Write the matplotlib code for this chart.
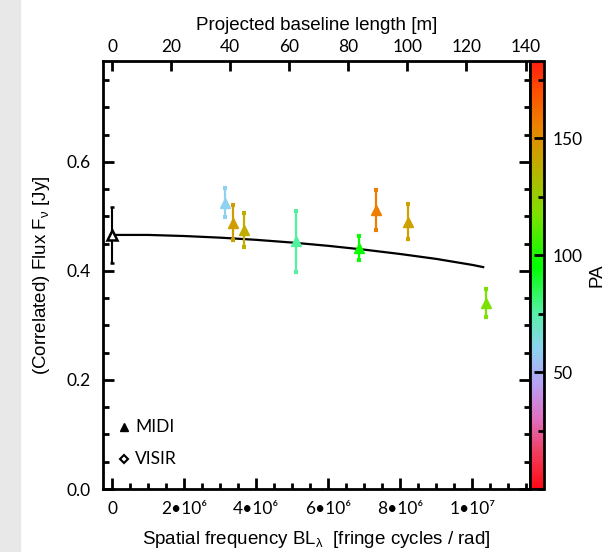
import numpy as np
import matplotlib
matplotlib.use("Agg")
import matplotlib.pyplot as plt
from matplotlib.colors import LinearSegmentedColormap, Normalize
from matplotlib.patches import Rectangle
from matplotlib.ticker import MultipleLocator

plt.rcParams["font.family"] = ["Liberation Sans", "DejaVu Sans"]
plt.rcParams["mathtext.fontset"] = "custom"
plt.rcParams["mathtext.rm"] = "Liberation Sans"
plt.rcParams["mathtext.it"] = "Liberation Sans:italic"

# --- data ---
WAVELENGTH_M = 12.2e-6  # spatial frequency -> projected baseline

total_freq = [0.0]
total_flux = [0.466]
total_err = [0.052]

midi_freq = [3.14e6, 3.36e6, 3.66e6, 5.10e6, 6.86e6, 7.32e6, 8.21e6, 10.39e6]
midi_flux = [0.525, 0.488, 0.475, 0.454, 0.442, 0.512, 0.490, 0.341]
midi_err = [0.027, 0.032, 0.031, 0.056, 0.022, 0.037, 0.032, 0.026]
midi_pa = [60, 145, 138, 76, 97, 156, 143, 117]

model_freq = [0.0, 1e6, 2e6, 3e6, 4e6, 5e6, 6e6, 7e6, 8e6, 9e6, 10e6, 10.3e6]
model_flux = [0.466, 0.466, 0.464, 0.461, 0.457, 0.452, 0.446, 0.439, 0.431, 0.422, 0.411, 0.407]

freq_ticks = [0, 2e6, 4e6, 6e6, 8e6, 10e6]
freq_ticklabels = ["0", "2\u202210\u2076", "4\u202210\u2076", "6\u202210\u2076",
                   "8\u202210\u2076", "1\u202210\u2077"]

pa_anchor = [0, 15, 30, 45, 60, 75, 95, 118, 140, 156, 170, 183]
pa_colors = ["#ff0a14", "#f03c5c", "#e070c0", "#b8a2f6", "#8ed2f0", "#58f0a8",
             "#00ff00", "#80e000", "#c4aa00", "#ec8000", "#ff5000", "#ff1e10"]

PA_MAX = 183.0
cmap = LinearSegmentedColormap.from_list(
    "pa", [(p / PA_MAX, c) for p, c in zip(pa_anchor, pa_colors)])
norm = Normalize(0, PA_MAX)

W, H = 611, 552
fig = plt.figure(figsize=(W / 100, H / 100), dpi=100)
fig.patches.append(Rectangle((0, 0), 20 / W, 1, transform=fig.transFigure,
                             color="#e8e8e8", zorder=-10))

ax = fig.add_axes([103 / W, 1 - 489 / H, 427 / W, 428 / H])
cax = fig.add_axes([530 / W, 1 - 489 / H, 14 / W, 428 / H])

tick_font = ["Lato", "DejaVu Sans"]

# model curve
ax.plot(model_freq, model_flux, color="black", lw=1.6, zorder=2)

# total flux (single dish)
ax.errorbar(total_freq, total_flux, yerr=total_err, fmt="^", color="black",
            mfc="white", mec="black", mew=1.8, ms=7.5, elinewidth=1.5,
            capsize=1.5, capthick=3, zorder=3)

# correlated fluxes coloured by PA
for f, fl, e, pa in zip(midi_freq, midi_flux, midi_err, midi_pa):
    c = cmap(norm(pa))
    ax.errorbar([f], [fl], yerr=[e], fmt="^", color=c, ms=7, elinewidth=1.6,
                capsize=1.5, capthick=3, zorder=3)

ax.set_xlim(-0.25e6, 11.6e6)
ax.set_ylim(0, 0.785)

ax.set_xticks(freq_ticks)
ax.set_xticklabels(freq_ticklabels, fontfamily=tick_font, fontsize=12.5)
ax.xaxis.set_minor_locator(MultipleLocator(0.5e6))
ax.yaxis.set_minor_locator(MultipleLocator(0.05))
ax.set_yticks([0, 0.2, 0.4, 0.6])
ax.set_yticklabels(["0.0", "0.2", "0.4", "0.6"], fontfamily=tick_font, fontsize=12.5)

ax.tick_params(which="both", direction="in", right=True, top=False, width=2)
ax.tick_params(which="major", length=8, pad=9)
ax.tick_params(which="minor", length=4)
for s in ax.spines.values():
    s.set_linewidth(2)

ax.set_xlabel(r"Spatial frequency BL$_\mathrm{\lambda}$  [fringe cycles / rad]",
              fontsize=13.5, labelpad=8)
ax.set_ylabel(r"(Correlated) Flux F$_\mathrm{\nu}$ [Jy]", fontsize=13.5, labelpad=10)

top = ax.secondary_xaxis("top", functions=(lambda x: x * WAVELENGTH_M,
                                           lambda b: b / WAVELENGTH_M))
top.set_xticks([0, 20, 40, 60, 80, 100, 120, 140])
top.set_xticklabels(["0", "20", "40", "60", "80", "100", "120", "140"],
                    fontfamily=tick_font, fontsize=12.5)
top.tick_params(direction="in", length=7, width=2, pad=4)
top.set_xlabel("Projected baseline length [m]", fontsize=13.5, labelpad=7)

# instrument key
ax.plot([0.32e6], [0.113], marker="^", color="black", ms=5.5, ls="none")
ax.text(0.65e6, 0.113, "MIDI", fontfamily=tick_font, fontsize=12.5, va="center")
ax.plot([0.32e6], [0.055], marker="D", mfc="white", mec="black", mew=1.5,
        ms=4, ls="none")
ax.text(0.65e6, 0.055, "VISIR", fontfamily=tick_font, fontsize=12.5, va="center")

# colour bar for PA
cb = fig.colorbar(plt.cm.ScalarMappable(norm=norm, cmap=cmap), cax=cax)
cb.set_ticks([50, 100, 150])
cb.set_ticklabels(["50", "100", "150"], fontfamily=tick_font, fontsize=12.5)
cax.yaxis.set_minor_locator(MultipleLocator(25))
cax.tick_params(which="both", direction="in", width=2, pad=6)
cax.tick_params(which="major", length=7)
cax.tick_params(which="minor", length=4)
cb.outline.set_linewidth(2)
cb.set_label("PA", fontsize=13.5, labelpad=4)

fig.savefig("out.png", dpi=100)
